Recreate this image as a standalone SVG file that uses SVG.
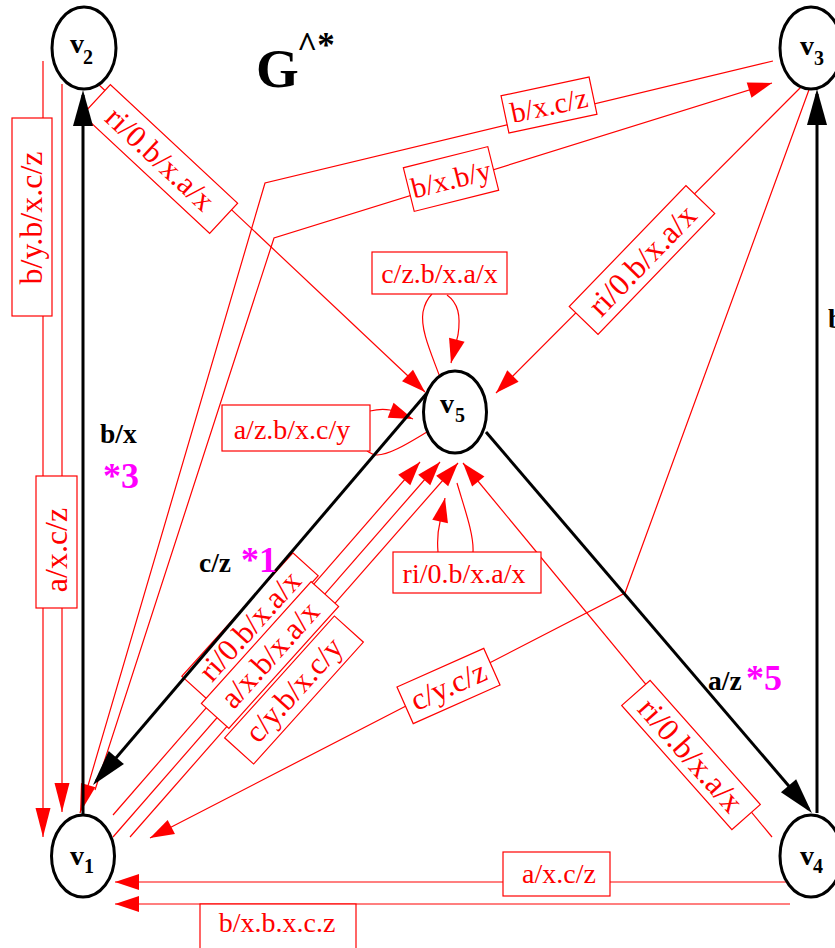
<svg xmlns="http://www.w3.org/2000/svg" width="835" height="948" viewBox="0 0 835 948">
<defs>
<style>
.n{fill:#fff;stroke:#000;stroke-width:3}
.nl{font-family:"Liberation Serif",serif;font-weight:bold;fill:#000}
.re{fill:none;stroke:#f00;stroke-width:1.2}
.rb{fill:#fff;stroke:#f00;stroke-width:1.2}
.rt{font-family:"Liberation Serif",serif;fill:#f00;text-anchor:middle}
.be{fill:none;stroke:#000;stroke-width:3}
.bt{font-family:"Liberation Serif",serif;font-weight:bold;font-size:27.5px;fill:#000}
.mt{font-family:"Liberation Serif",serif;font-weight:bold;font-size:36px;fill:#f0f}
</style>
<marker id="ar" markerUnits="userSpaceOnUse" markerWidth="30" markerHeight="20" refX="24" refY="8" orient="auto" overflow="visible"><path d="M0,0 L24,8 L0,16 z" fill="#f00"/></marker>
<marker id="arl" markerUnits="userSpaceOnUse" markerWidth="32" markerHeight="18" refX="29" refY="7.5" orient="auto" overflow="visible"><path d="M0,0 L29,7.5 L0,15 z" fill="#f00"/></marker>
<marker id="ab" markerUnits="userSpaceOnUse" markerWidth="40" markerHeight="22" refX="31" refY="10" orient="auto" overflow="visible"><path d="M0,0 L36,10 L0,20 z" fill="#000"/></marker>
</defs>
<rect width="835" height="948" fill="#fff"/>

<!-- title -->
<text class="nl" x="256" y="87" font-size="55">G</text>
<text class="nl" x="297" y="57" font-size="35">^*</text>

<g id="connectors">
  <!-- red edge lines -->
  <path class="re" d="M43,61 L43,837" marker-end="url(#arl)"/>
  <path class="re" d="M62,84 L62,812" marker-end="url(#arl)"/>
  <path class="re" d="M97,83 L425,392" marker-end="url(#ar)"/>
  <path class="re" d="M773,61 L265,183 L80,813" marker-end="url(#arl)"/>
  <path class="re" d="M95,790 L274,238 L772,83" marker-end="url(#ar)"/>
  <path class="re" d="M805,83 L496,393" marker-end="url(#ar)"/>
  <path class="re" d="M810,87 L625,593 L150,838" marker-end="url(#ar)"/>
  <path class="re" d="M441,380 C432,355 420,330 423,312 C425,302 429,297 432,294"/>
  <path class="re" d="M447,295 C458,303 461,315 458,335 L451,363" marker-end="url(#ar)"/>
  <path class="re" d="M427,432 C410,442 390,455 377,455 C372,455 369,452 367,451"/>
  <path class="re" d="M370,411 C378,409 385,409 390,410 L413,419" marker-end="url(#ar)"/>
  <path class="re" d="M457,483 C465,510 474,535 473,552"/>
  <path class="re" d="M438,552 C437,540 438,530 440,522 L445,498" marker-end="url(#ar)"/>
  <path class="re" d="M113,815 L420,462" marker-end="url(#ar)"/>
  <path class="re" d="M113,837 L440,462" marker-end="url(#ar)"/>
  <path class="re" d="M130,837 L458,463" marker-end="url(#ar)"/>
  <path class="re" d="M772,837 L463,463" marker-end="url(#ar)"/>
  <path class="re" d="M790,882 L115,882" marker-end="url(#ar)"/>
  <path class="re" d="M790,904 L115,904" marker-end="url(#ar)"/>

  <!-- red edge labels -->
  <g><rect class="rb" x="12" y="118" width="40" height="198"/>
    <text class="rt" font-size="32" transform="translate(42,218) rotate(-90)">b/y.b/x.c/z</text></g>
  <g><rect class="rb" x="36" y="476" width="41" height="132"/>
    <text class="rt" font-size="32" transform="translate(67,550) rotate(-90)">a/x.c/z</text></g>
  <g transform="translate(160,159) rotate(43)"><rect class="rb" x="-87" y="-20.5" width="174" height="41"/>
    <text class="rt" font-size="31" y="10">ri/0.b/x.a/x</text></g>
  <g transform="translate(549,105) rotate(-12)"><rect class="rb" x="-45" y="-19" width="90" height="38"/>
    <text class="rt" font-size="29" y="10">b/x.c/z</text></g>
  <g transform="translate(451,179) rotate(-14)"><rect class="rb" x="-43.5" y="-22.5" width="87" height="45"/>
    <text class="rt" font-size="29" y="10">b/x.b/y</text></g>
  <g transform="translate(642,260) rotate(-46)"><rect class="rb" x="-84" y="-20" width="168" height="40"/>
    <text class="rt" font-size="32" y="11">ri/0.b/x.a/x</text></g>
  <g transform="translate(448.5,686) rotate(-24)"><rect class="rb" x="-47.5" y="-20" width="95" height="40"/>
    <text class="rt" font-size="31" y="10">c/y.c/z</text></g>
  <g><rect class="rb" x="372" y="252" width="135" height="42"/>
    <text class="rt" font-size="28" x="439.5" y="283">c/z.b/x.a/x</text></g>
  <g><rect class="rb" x="222" y="405" width="148" height="46"/>
    <text class="rt" font-size="28" x="292" y="439">a/z.b/x.c/y</text></g>
  <g><rect class="rb" x="393" y="552" width="148" height="41"/>
    <text class="rt" font-size="28" x="464" y="583">ri/0.b/x.a/x</text></g>
  <g transform="translate(250,626) rotate(-48)"><rect class="rb" x="-83" y="-17" width="166" height="34"/>
    <text class="rt" font-size="31" y="10">ri/0.b/x.a/x</text></g>
  <g transform="translate(270,655) rotate(-48)"><rect class="rb" x="-82" y="-18.5" width="164" height="37"/>
    <text class="rt" font-size="31" y="10">a/x.b/x.a/x</text></g>
  <g transform="translate(294,690) rotate(-48)"><rect class="rb" x="-82" y="-19.5" width="164" height="39"/>
    <text class="rt" font-size="31" y="10">c/y.b/x.c/y</text></g>
  <g transform="translate(691,755) rotate(48.4)"><rect class="rb" x="-83" y="-19" width="166" height="38"/>
    <text class="rt" font-size="32" y="11">ri/0.b/x.a/x</text></g>
  <g><rect class="rb" x="503" y="852" width="107" height="44"/>
    <text class="rt" font-size="28" x="559" y="883">a/x.c/z</text></g>
  <g><rect class="rb" x="200" y="904" width="156" height="60"/>
    <text class="rt" font-size="28" x="277" y="932">b/x.b.x.c.z</text></g>

  <!-- black edges -->
  <path class="be" d="M83,815 L83,95" marker-end="url(#ab)"/>
  <path class="be" d="M817,813 L817,94" marker-end="url(#ab)"/>
  <path class="be" d="M427,393 L96.2,781.2" marker-end="url(#ab)"/>
  <path class="be" d="M486,432 L808.7,809.2" marker-end="url(#ab)"/>
  <text class="bt" x="100" y="443">b/x</text>
  <text class="mt" x="103" y="488">*3</text>
  <text class="bt" x="199" y="572">c/z</text>
  <text class="mt" x="241" y="572">*1</text>
  <text class="bt" x="708" y="690">a/z</text>
  <text class="mt" x="746" y="690">*5</text>
  <text class="bt" x="828" y="328">b</text>
</g>

<!-- nodes -->
<g id="v1"><ellipse class="n" cx="83" cy="856" rx="31.5" ry="41"/>
  <text class="nl"><tspan x="70" y="865" font-size="28">v</tspan><tspan x="84" y="873" font-size="20">1</tspan></text></g>
<g id="v2"><ellipse class="n" cx="84" cy="48" rx="32" ry="41"/>
  <text class="nl"><tspan x="70" y="53" font-size="28">v</tspan><tspan x="83" y="64" font-size="20">2</tspan></text></g>
<g id="v3"><ellipse class="n" cx="811" cy="48" rx="31" ry="41"/>
  <text class="nl"><tspan x="800" y="55" font-size="28">v</tspan><tspan x="814" y="65" font-size="20">3</tspan></text></g>
<g id="v4"><ellipse class="n" cx="811" cy="856" rx="31" ry="41"/>
  <text class="nl"><tspan x="800" y="865" font-size="28">v</tspan><tspan x="813" y="873" font-size="20">4</tspan></text></g>
<g id="v5"><ellipse class="n" cx="455" cy="412" rx="31.5" ry="41"/>
  <text class="nl"><tspan x="440" y="413" font-size="28">v</tspan><tspan x="455" y="422" font-size="20">5</tspan></text></g>
</svg>
